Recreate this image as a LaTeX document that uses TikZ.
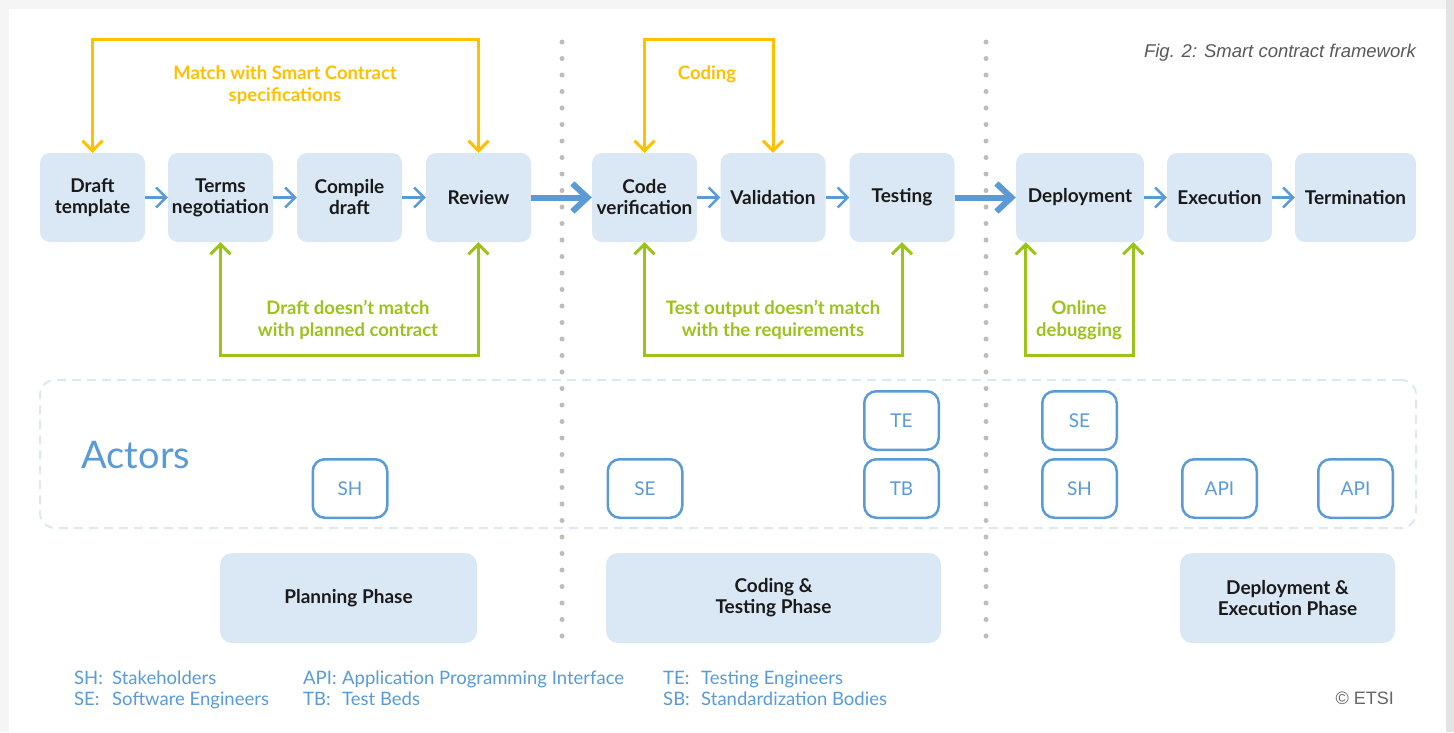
\documentclass[tikz,border=0pt]{standalone}
\usepackage{fontspec}
\setmainfont{Lato}
\newfontfamily\capfont{Liberation Sans}
\usetikzlibrary{arrows.meta}

\begin{document}
\begin{tikzpicture}[x=1pt,y=-1pt,font=\fontsize{17}{21}\selectfont,>={Straight Barb[length=10pt,width=20pt]}]
  \definecolor{ink}{HTML}{1A1A1A}
  \definecolor{pale}{HTML}{DAE8F5}
  \definecolor{steel}{HTML}{5B9BD5}
  \definecolor{amber}{HTML}{FFC000}
  \definecolor{lime}{HTML}{9BC31A}
  \definecolor{haze}{HTML}{DCE9F5}
  \definecolor{dots}{HTML}{BDBDBD}
  \tikzset{stepbox/.style={fill=pale,rounded corners=10pt,minimum width=105pt,minimum height=89pt,align=center,text=ink,font=\fontsize{19}{21}\selectfont\bfseries},
    phase/.style={fill=pale,rounded corners=12pt,minimum height=90pt,align=center,text=ink,font=\fontsize{19}{21}\selectfont\bfseries},
    actor/.style={draw=steel,line width=2.5pt,fill=white,rounded corners=12pt,minimum width=74.5pt,minimum height=58.5pt,text=steel,font=\fontsize{19}{21}\selectfont},
    flow/.style={->,steel,line width=2.5pt},
    bigflow/.style={-{Straight Barb[length=15pt,width=28pt]},steel,line width=6pt},
    specloop/.style={<->,amber,line width=3pt},
    fixloop/.style={<->,lime,line width=3pt},
    loopnote/.style={align=center,font=\fontsize{18.5}{22}\selectfont\bfseries},
    legend/.style={anchor=base west,inner sep=0pt,text=steel,font=\fontsize{18.5}{21}\selectfont},
    separator/.style={dots,line width=5pt,line cap=round,dash pattern=on 0pt off 16.5pt}}
  \useasboundingbox (0,0) rectangle (1454,732);
  % page
  \fill[gray!8] (0,0) rectangle (1454,732);
  \fill[gray!22] (1446,0) rectangle (1454,732);
  \fill[white] (9,9) rectangle (1446,732);
  % phase separators
  \draw[separator] (562,42) -- (562,642);
  \draw[separator] (986,42) -- (986,642);
  \node[anchor=east,inner sep=0pt,text=black!65,font=\capfont\itshape\fontsize{18.5}{21}\selectfont] (caption) at (1416,53) {Fig. 2: Smart contract framework};
  % process steps
  \node[stepbox] (draft) at (92.5,197.5) {Draft\\template};
  \node[stepbox] (terms) at (220.5,197.5) {Terms\\negotiation};
  \node[stepbox] (compile) at (349.5,197.5) {Compile\\draft};
  \node[stepbox] (review) at (478.5,197.5) {Review};
  \node[stepbox] (codever) at (644.5,197.5) {Code\\verification};
  \node[stepbox] (valid) at (773,197.5) {Validation};
  \node[stepbox] (testing) at (902,197.5) {Testing};
  \node[stepbox,minimum width=128pt] (deploy) at (1080,197.5) {Deployment};
  \node[stepbox] (exec) at (1219.5,197.5) {Execution};
  \node[stepbox,minimum width=121pt] (term) at (1355.5,197.5) {Termination};
  \draw[flow] (draft) -- (terms);
  \draw[flow] (terms) -- (compile);
  \draw[flow] (compile) -- (review);
  \draw[bigflow] (review) -- (codever);
  \draw[flow] (codever) -- (valid);
  \draw[flow] (valid) -- (testing);
  \draw[bigflow] (testing) -- (deploy);
  \draw[flow] (deploy) -- (exec);
  \draw[flow] (exec) -- (term);
  % feedback loops
  \draw[specloop] (draft.north) -- ++(0,-113) -| (review.north);
  \draw[specloop] (codever.north) -- ++(0,-113) -| (valid.north);
  \draw[fixloop] (terms.south) -- ++(0,113) -| (review.south);
  \draw[fixloop] (codever.south) -- ++(0,113) -| (testing.south);
  \draw[fixloop] ([xshift=10pt]deploy.south west) -- ++(0,113) -| ([xshift=-11pt]deploy.south east);
  \node[loopnote,text=amber] (specnote) at (285,85) {Match with Smart Contract\\specifications};
  \node[loopnote,text=amber] (codenote) at (707,74) {Coding};
  \node[loopnote,text=lime] (draftnote) at (348,320) {Draft doesn’t match\\with planned contract};
  \node[loopnote,text=lime] (testnote) at (773,320) {Test output doesn’t match\\with the requirements};
  \node[loopnote,text=lime] (debugnote) at (1079,320) {Online\\debugging};
  % actors
  \node[draw=haze,line width=2pt,dash pattern=on 9pt off 6pt,rounded corners=15pt,minimum width=1376pt,minimum height=148pt] (actorarea) at (728,454) {};
  \node[anchor=west,text=steel,font=\fontsize{38}{40}\selectfont] (actors) at (78,455) {Actors};
  \node[actor] (plansh) at (350,488.5) {SH};
  \node[actor] (codese) at (645,488.5) {SE};
  \node[actor] (codete) at (901.5,420.5) {TE};
  \node[actor] (codetb) at (901.5,488.5) {TB};
  \node[actor] (depse) at (1079.5,420.5) {SE};
  \node[actor] (depsh) at (1079.5,488.5) {SH};
  \node[actor] (depapi) at (1219.5,488.5) {API};
  \node[actor] (execapi) at (1355.5,488.5) {API};
  % phases
  \node[phase,minimum width=257pt] (planning) at (348.5,598) {Planning Phase};
  \node[phase,minimum width=335pt] (codingph) at (773.5,598) {Coding \&\\Testing Phase};
  \node[phase,minimum width=215pt] (deployph) at (1287.5,598) {Deployment \&\\Execution Phase};
  % legend
  \node[legend] (legsh) at (74,684) {\makebox[38pt][l]{SH:}Stakeholders};
  \node[legend] (legse) at (74,705) {\makebox[38pt][l]{SE:}Software Engineers};
  \node[legend] (legapi) at (303,684) {\makebox[39pt][l]{API:}Application Programming Interface};
  \node[legend] (legtb) at (303,705) {\makebox[39pt][l]{TB:}Test Beds};
  \node[legend] (legte) at (663,684) {\makebox[38pt][l]{TE:}Testing Engineers};
  \node[legend] (legsb) at (663,705) {\makebox[38pt][l]{SB:}Standardization Bodies};
  \node[anchor=east,inner sep=0pt,text=black!60,font=\capfont\fontsize{18}{20}\selectfont] (etsi) at (1394,698) {© ETSI};
\end{tikzpicture}
\end{document}
